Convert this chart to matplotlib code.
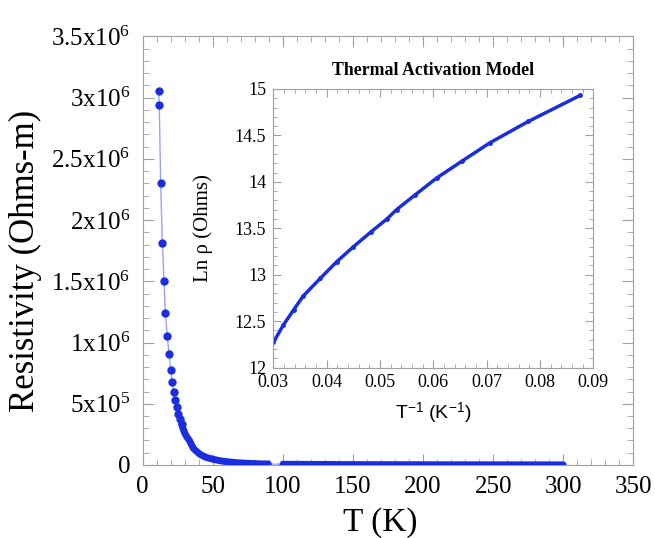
import numpy as np
import matplotlib
matplotlib.use('Agg')
import matplotlib.pyplot as plt
from matplotlib.ticker import MultipleLocator, FixedLocator, FixedFormatter

plt.rcParams['font.family'] = ['Liberation Serif', 'DejaVu Serif']
plt.rcParams['mathtext.fontset'] = 'custom'
plt.rcParams['mathtext.rm'] = 'Liberation Serif'
plt.rcParams['mathtext.it'] = 'Liberation Serif:italic'
plt.rcParams['mathtext.bf'] = 'Liberation Serif:bold'

# resistivity vs temperature, low T points
T_low = [11.4, 11.8, 12.8, 14.0, 15.2, 16.1, 17.5, 18.8, 20.0, 20.9, 22.1,
         23.3, 24.5, 25.4, 26.6, 27.8]
R_low = [3.05e6, 2.94e6, 2.30e6, 1.81e6, 1.50e6, 1.245e6, 1.055e6, 0.903e6,
         0.775e6, 0.679e6, 0.595e6, 0.528e6, 0.471e6, 0.418e6, 0.375e6, 0.332e6]

# dense part of the curve (markers so close they merge into a band)
T_mid = [27.8, 29.0, 30.2, 31.4, 33.3, 36.1, 38.5, 40.9, 45.0, 50.4, 56.0,
         62.3, 68.0, 74.2, 82.0, 89.6]
R_mid = [0.332e6, 0.29e6, 0.255e6, 0.23e6, 0.20e6, 0.136e6, 0.11e6, 0.087e6,
         0.063e6, 0.046e6, 0.033e6, 0.024e6, 0.018e6, 0.014e6, 0.010e6, 0.008e6]

T_high = [100, 150, 200, 250, 300]
R_high = [6e3, 3e3, 2e3, 1.5e3, 1e3]

# inset: ln(rho) vs 1/T
inv_T = [0.0300, 0.0319, 0.0338, 0.0356, 0.0388, 0.0419, 0.0450, 0.0483,
         0.0513, 0.0531, 0.0566, 0.0606, 0.0653, 0.0706, 0.0778, 0.0875]
ln_rho = [12.27, 12.46, 12.62, 12.77, 12.96, 13.14, 13.30, 13.46,
          13.60, 13.70, 13.86, 14.04, 14.22, 14.42, 14.65, 14.93]

blue = '#1a2ee0'
light = '#9aa4f2'
gray = '#a0a0a0'

fig = plt.figure(figsize=(6.55, 5.38), dpi=100)
ax = fig.add_axes([0.2179, 0.1357, 0.749, 0.7968])

T_all = T_low + T_mid[1:] + T_high
R_all = R_low + R_mid[1:] + R_high
ax.plot(T_all, R_all, '-', color=light, lw=1, zorder=2)
ax.plot(T_low, R_low, 'o', color=blue, ms=5, zorder=3)
ax.plot(T_mid, R_mid, '-', color=blue, lw=5, solid_capstyle='round', zorder=3)
ax.plot(T_high, R_high, '-', color=blue, lw=5, solid_capstyle='round', zorder=3)

ax.set_xlim(0, 350)
ax.set_ylim(0, 3.5e6)
ax.xaxis.set_major_locator(MultipleLocator(50))
ax.xaxis.set_minor_locator(MultipleLocator(10))
yt = [0, 0.5e6, 1e6, 1.5e6, 2e6, 2.5e6, 3e6, 3.5e6]
ylabels = ['0', r'5x10$^{5}$', r'1x10$^{6}$', r'1.5x10$^{6}$', r'2x10$^{6}$',
           r'2.5x10$^{6}$', r'3x10$^{6}$', r'3.5x10$^{6}$']
ax.yaxis.set_major_locator(FixedLocator(yt))
ax.yaxis.set_major_formatter(FixedFormatter(ylabels))
ax.yaxis.set_minor_locator(MultipleLocator(1e5))
ax.tick_params(which='both', direction='in', top=True, right=True, color=gray,
               labelsize=18)
ax.tick_params(which='major', length=8)
ax.tick_params(which='minor', length=4)
ax.tick_params(axis='y', pad=9)
ax.tick_params(axis='x', pad=8)
for s in ax.spines.values():
    s.set_color(gray)
ax.set_xlabel('T (K)', fontsize=24)
ax.xaxis.set_label_coords(0.4837, -0.098)
ax.set_ylabel('Resistivity (Ohms-m)', fontsize=25)
ax.yaxis.set_label_coords(-0.205, 0.476)

# inset
ins = fig.add_axes([0.4173, 0.3169, 0.4885, 0.5177])
ins.plot(inv_T, ln_rho, '-', color=blue, lw=2.5, marker='o', ms=2.5)
ins.set_xlim(0.03, 0.09)
ins.set_ylim(12, 15)
ins.xaxis.set_major_locator(FixedLocator([0.03, 0.04, 0.05, 0.06, 0.07, 0.08, 0.09]))
ins.xaxis.set_major_formatter(FixedFormatter(['0.03', '0.04', '0.05', '0.06',
                                               '0.07', '0.08', '0.09']))
ins.xaxis.set_minor_locator(MultipleLocator(0.002))
ins.yaxis.set_major_locator(FixedLocator([12, 12.5, 13, 13.5, 14, 14.5, 15]))
ins.yaxis.set_major_formatter(FixedFormatter(['12', '12.5', '13', '13.5', '14',
                                               '14.5', '15']))
ins.yaxis.set_minor_locator(MultipleLocator(0.1))
ins.tick_params(which='both', direction='in', top=True, right=True, color=gray,
                labelsize=13)
ins.tick_params(which='major', length=6)
ins.tick_params(which='minor', length=3)
ins.tick_params(axis='both', pad=5)
for s in ins.spines.values():
    s.set_color(gray)
ins.set_xlabel(r'T$^{\mathregular{-1}}$ (K$^{\mathregular{-1}}$)', fontsize=14,
               family=['Liberation Sans', 'DejaVu Sans'])
ins.xaxis.set_label_coords(0.5, -0.12)
ins.set_ylabel('Ln ρ (Ohms)', fontsize=15)
ins.yaxis.set_label_coords(-0.19, 0.502)
ins.set_title('Thermal Activation Model', fontsize=12.8, fontweight='bold', pad=10)

fig.savefig('out.png', dpi=100)
